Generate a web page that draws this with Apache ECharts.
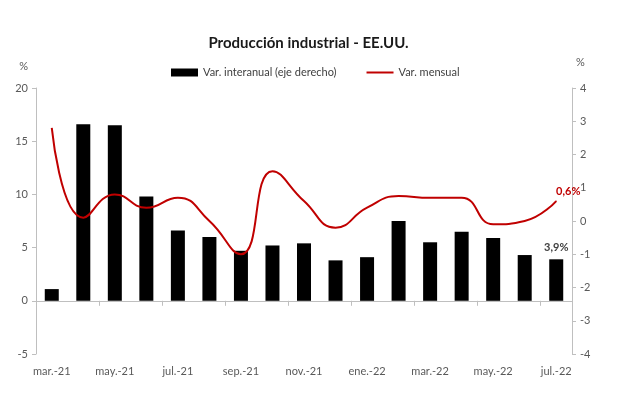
<!DOCTYPE html>
<html>
<head>
<meta charset="utf-8">
<script src="https://cdn.jsdelivr.net/npm/echarts@6/dist/echarts.min.js"></script>
<style>
    html, body { margin: 0; padding: 0; background: #fff; }
    #chart { width: 617px; height: 399px; }
</style>
</head>
<body>
<div id="chart"></div>
<script>
// meses (eje de categorias)
var months = ['mar.-21', 'abr.-21', 'may.-21', 'jun.-21', 'jul.-21', 'ago.-21', 'sep.-21', 'oct.-21', 'nov.-21',
    'dic.-21', 'ene.-22', 'feb.-22', 'mar.-22', 'abr.-22', 'may.-22', 'jun.-22', 'jul.-22'];
// variacion interanual (barras, eje izquierdo)
var interanual = [1.1, 16.6, 16.5, 9.8, 6.6, 6.0, 4.7, 5.2, 5.4, 3.8, 4.1, 7.5, 5.5, 6.5, 5.9, 4.3, 3.9];
// variacion mensual (linea, eje derecho)
var mensual = [2.8, 0.1, 0.8, 0.4, 0.7, 0.0, -1.0, 1.5, 0.6, -0.2, 0.4, 0.75, 0.7, 0.7, -0.1, 0.0, 0.6];

var fontFam = 'Lato, "Open Sans", sans-serif';
var axisGray = '#bfbfbf';
var labelGray = '#595959';

var lastIdx = months.length - 1;

function pct (p) {
    return String(p.value).replace('.', ',') + '%';
}

var barData = interanual.map(function (v, i) {
    if (i === lastIdx) {
        return {
            value: v,
            label: {
                show: true, position: 'top', distance: 6,
                formatter: pct,
                color: '#404040', fontWeight: 'bold', fontSize: 11, fontFamily: fontFam
            }
        };
    }
    return v;
});

var lineData = mensual.map(function (v, i) {
    if (i === lastIdx) {
        return {
            value: v,
            symbol: 'circle',
            symbolSize: 1,
            label: {
                show: true, position: 'top', distance: 4, offset: [12, 0],
                formatter: pct,
                color: '#c00000', fontWeight: 'bold', fontSize: 11, fontFamily: fontFam
            }
        };
    }
    return v;
});

var myChart = echarts.init(document.getElementById('chart'));
myChart.setOption({
    animation: false,
    textStyle: { fontFamily: fontFam },
    title: {
        text: 'Producción industrial - EE.UU.',
        left: 'center',
        top: 31,
        textStyle: { fontSize: 15, fontWeight: 'bold', color: '#1a1a1a', fontFamily: fontFam }
    },
    legend: {
        top: 62,
        left: 166,
        itemWidth: 27,
        itemHeight: 8,
        itemGap: 30,
        textStyle: { fontSize: 11, color: '#404040', fontFamily: fontFam },
        data: [
            { name: 'Var. interanual (eje derecho)', icon: 'rect' },
            { name: 'Var. mensual', icon: 'path://M0,0 L27,0 L27,2 L0,2 Z' }
        ]
    },
    grid: { left: 36, right: 45, top: 88, bottom: 45 },
    xAxis: [
        {
            type: 'category',
            data: months,
            axisLine: { onZero: true, lineStyle: { color: axisGray } },
            axisTick: { show: true, interval: 1, length: 5, lineStyle: { color: axisGray } },
            axisLabel: { show: false }
        },
        {
            type: 'category',
            data: months,
            position: 'bottom',
            axisLine: { show: false },
            axisTick: { show: false },
            axisLabel: { interval: 1, color: labelGray, fontSize: 11, margin: 12, fontFamily: fontFam }
        }
    ],
    yAxis: [
        {
            type: 'value',
            min: -5, max: 20, interval: 5,
            name: '%',
            nameLocation: 'end',
            nameGap: 16,
            nameTextStyle: { color: labelGray, fontSize: 11, align: 'right', padding: [0, 8, 0, 0] },
            splitLine: { show: false },
            axisLine: { show: true, lineStyle: { color: axisGray } },
            axisTick: { show: true, length: 4, lineStyle: { color: axisGray } },
            axisLabel: { color: labelGray, fontSize: 11, margin: 8 }
        },
        {
            type: 'value',
            min: -4, max: 4, interval: 1,
            position: 'right',
            name: '%',
            nameLocation: 'end',
            nameGap: 20,
            nameTextStyle: { color: labelGray, fontSize: 11, align: 'left', padding: [0, 0, 0, 4] },
            splitLine: { show: false },
            axisLine: { show: true, onZero: false, lineStyle: { color: axisGray } },
            axisTick: { show: true, length: 4, lineStyle: { color: axisGray } },
            axisLabel: { color: labelGray, fontSize: 11, margin: 8 }
        }
    ],
    series: [
        {
            name: 'Var. interanual (eje derecho)',
            type: 'bar',
            xAxisIndex: 0,
            yAxisIndex: 0,
            barWidth: 14,
            itemStyle: { color: '#000' },
            data: barData
        },
        {
            name: 'Var. mensual',
            type: 'line',
            xAxisIndex: 0,
            yAxisIndex: 1,
            smooth: 0.5,
            symbol: 'none',
            lineStyle: { color: '#c00000', width: 2 },
            itemStyle: { color: '#c00000' },
            data: lineData
        }
    ]
});
</script>
</body>
</html>
